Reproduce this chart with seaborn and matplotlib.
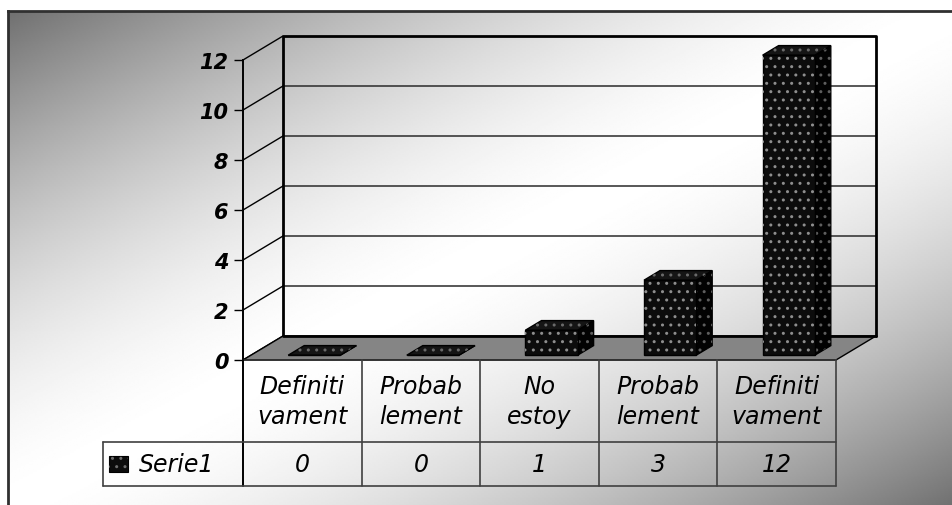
import numpy as np
import pandas as pd
import matplotlib
matplotlib.use("Agg")
import matplotlib.pyplot as plt
import matplotlib.transforms as mtransforms
from matplotlib.patches import Polygon, Rectangle
import seaborn as sns

# ---- data ----
categorias = ["Definiti\nvament", "Probab\nlement", "No\nestoy", "Probab\nlement", "Definiti\nvament"]
serie1 = [0, 0, 1, 3, 12]
nombre_serie = "Serie1"
yticks = [0, 2, 4, 6, 8, 10, 12]

W, H, DPI = 953, 506, 100

sns.set_style("white")
plt.rcParams["font.family"] = ["DejaVu Sans"]
plt.rcParams["hatch.linewidth"] = 1.0

fig = plt.figure(figsize=(W / DPI, H / DPI), dpi=DPI)

# ---- background panel with diagonal grey gradient ----
bg = fig.add_axes([0, 0, 1, 1], zorder=-10)
X0, Y0 = 8, 12
u, v = np.meshgrid(np.linspace(0, 1, 480), np.linspace(0, 1, 260))
shade = 1 - 0.56 * np.abs(u + v - 1) ** 1.6
bg.imshow(shade, cmap="gray", vmin=0, vmax=1, extent=(X0, W + 2, H + 2, Y0),
          aspect="auto", interpolation="bilinear", origin="upper")
bg.plot([X0, X0], [H + 5, Y0], color="#303030", lw=2, solid_capstyle="projecting")
bg.plot([X0, W + 5], [Y0, Y0], color="#303030", lw=2, solid_capstyle="projecting")
bg.set_xlim(0, W)
bg.set_ylim(H, 0)
bg.axis("off")

# ---- main plotting axes (front plane of the 3-D box) ----
L, R, B, T = 243, 836, 361, 61
ax = fig.add_axes([L / W, 1 - B / H, (R - L) / W, (B - T) / H])
ax.patch.set_alpha(0)

n = len(serie1)
df = pd.DataFrame({"pos": list(range(n)), "valor": serie1})
sns.barplot(data=df, x="pos", y="valor", color="#0c0c0c", saturation=1,
            width=0.44, errorbar=None, ax=ax, zorder=5)
bars = list(ax.containers[0])

ax.set_xlim(-0.5, n - 0.5)
ax.set_ylim(0, 12)
px_x = n / (R - L)
px_y = 12 / (B - T)
DX, DY = 40 * px_x, 24 * px_y          # depth vector of the box
SX = 4 * px_x                          # small lateral offset of the bars
D0, D1 = 0.2, 0.6                      # bar front / back depth fractions

xl, xr = -0.5, n - 0.5

# back wall gridlines and side-wall diagonals
for yv in yticks:
    ax.plot([xl, xl + DX], [yv, yv + DY], color="black", lw=1, zorder=1, clip_on=False)
for yv in yticks[1:-1]:
    ax.plot([xl + DX, xr + DX], [yv + DY, yv + DY], color="#2a2a2a", lw=1.1,
            zorder=1, clip_on=False)
ax.plot([xl + DX, xl + DX, xr + DX, xr + DX], [DY, 12 + DY, 12 + DY, DY],
        color="black", lw=2, zorder=1.5, clip_on=False)

# floor
floor = Polygon([(xl, 0), (xl + DX, DY), (xr + DX, DY), (xr, 0)], closed=True,
                facecolor="#858585", edgecolor="black", lw=1, zorder=2, clip_on=False)
ax.add_patch(floor)
ax.plot([xl + DX, xr + DX], [DY, DY], color="black", lw=2, zorder=2.1, clip_on=False)


def dotted(poly_pts=None, rect=None, tr=None, z=6, dot="#6a6a6a"):
    if rect is not None:
        p = Rectangle(rect[0], rect[1], rect[2], facecolor="none", edgecolor=dot,
                      lw=0, hatch="..", zorder=z, clip_on=False, transform=tr)
    else:
        p = Polygon(poly_pts, closed=True, facecolor="none", edgecolor=dot,
                    lw=0, hatch="..", zorder=z, clip_on=False)
    ax.add_patch(p)


# 3-D bars: seaborn front faces shifted to their depth, plus top and side faces
f0x, f0y = D0 * DX + SX, D0 * DY
f1x, f1y = D1 * DX + SX, D1 * DY
for rect in bars:
    x0, w, h = rect.get_x(), rect.get_width(), rect.get_height()
    tr = mtransforms.Affine2D().translate(f0x, f0y) + ax.transData
    rect.set_transform(tr)
    rect.set_edgecolor("black")
    rect.set_linewidth(1)
    rect.set_clip_on(False)
    side = [(x0 + w + f0x, f0y), (x0 + w + f1x, f1y),
            (x0 + w + f1x, h + f1y), (x0 + w + f0x, h + f0y)]
    top = [(x0 + f0x, h + f0y), (x0 + w + f0x, h + f0y),
           (x0 + w + f1x, h + f1y), (x0 + f1x, h + f1y)]
    ax.add_patch(Polygon(side, closed=True, facecolor="#020202", edgecolor="black",
                         lw=1, zorder=4.5, clip_on=False))
    ax.add_patch(Polygon(top, closed=True, facecolor="#151515", edgecolor="black",
                         lw=1, zorder=4.6, clip_on=False))
    if h > 0:
        dotted(poly_pts=side, z=4.55, dot="#5e5e5e")
        dotted(rect=((x0, 0), w, h), tr=tr, z=5.5, dot="#8e8e8e")
    dotted(poly_pts=top, z=4.65, dot="#6a6a6a")

# y axis on the front edge
ax.set_xticks([])
ax.set_xlabel("")
ax.set_ylabel("")
ax.set_yticks(yticks)
ax.set_yticklabels([str(t) for t in yticks], fontsize=15, fontweight="bold",
                   fontstyle="italic", color="black")
ax.tick_params(axis="y", length=6.5, width=1, color="black", labelcolor="black",
               pad=4, left=True)
for s in ["top", "right", "bottom"]:
    ax.spines[s].set_visible(False)
ax.spines["left"].set_color("black")
ax.spines["left"].set_linewidth(1.4)
ax.grid(False)

# ---- data table under the chart ----
yb1 = (B - 443) * px_y
yb2 = (B - 487) * px_y
xleg = xl + (103 - L) * px_x
tcol = "#404040"
ax.plot([xl, xr], [0, 0], color="#333333", lw=1.2, zorder=3, clip_on=False)
ax.plot([xl, xl], [0, yb2], color="black", lw=1.4, zorder=3, clip_on=False)
for i in range(1, n + 1):
    ax.plot([xl + i, xl + i], [0, yb2], color=tcol, lw=1.2, zorder=3, clip_on=False)
ax.plot([xleg, xr], [yb1, yb1], color=tcol, lw=1.2, zorder=3, clip_on=False)
ax.plot([xleg, xr], [yb2, yb2], color=tcol, lw=1.2, zorder=3, clip_on=False)
ax.plot([xleg, xleg], [yb1, yb2], color=tcol, lw=1.2, zorder=3, clip_on=False)

for i, (cat, val) in enumerate(zip(categorias, serie1)):
    ax.text(i, yb1 / 2, cat, ha="center", va="center", fontsize=17, fontstyle="italic",
            linespacing=1.3, color="black", clip_on=False)
    ax.text(i, (yb1 + yb2) / 2, f"{val}", ha="center", va="center", fontsize=17,
            fontstyle="italic", color="black", clip_on=False)

# legend key inside the table
ky = (yb1 + yb2) / 2
kx = xl + (109 - L) * px_x
kw, kh = 19 * px_x, 16 * px_y
ax.add_patch(Rectangle((kx, ky - kh / 2), kw, kh, facecolor="#0c0c0c", edgecolor="black",
                       lw=0.8, zorder=5, clip_on=False))
ax.add_patch(Rectangle((kx, ky - kh / 2), kw, kh, facecolor="none", edgecolor="#6e6e6e",
                       lw=0, hatch="..", zorder=5.5, clip_on=False))
ax.text(xl + (139 - L) * px_x, ky, nombre_serie, ha="left", va="center", fontsize=17,
        fontstyle="italic", color="black", clip_on=False)

fig.savefig("out.png", dpi=DPI)
